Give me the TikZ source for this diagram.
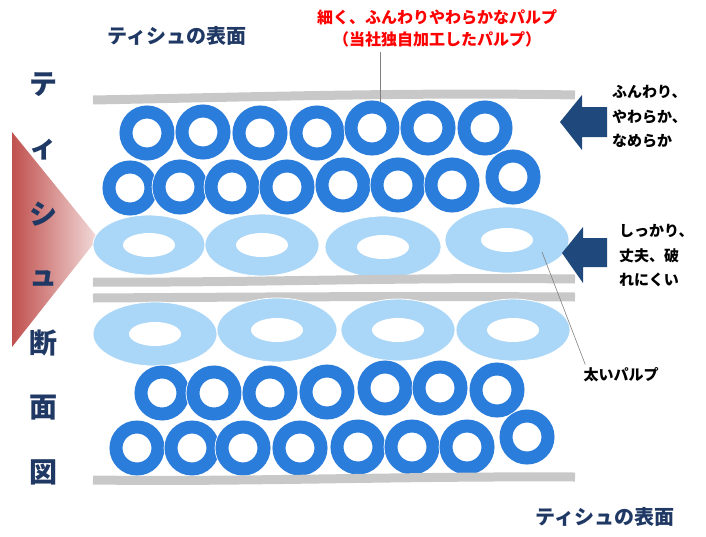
\documentclass[tikz,border=0pt]{standalone}
\usepackage{fontspec}
\setmainfont{Noto Sans CJK JP}
\usetikzlibrary{positioning}
\definecolor{navy}{RGB}{31,56,100}
\definecolor{ringblue}{RGB}{43,125,220}
\definecolor{lightpulp}{RGB}{170,214,247}
\definecolor{bargray}{RGB}{200,200,200}
\definecolor{leadergray}{RGB}{128,128,128}
\definecolor{arrowblue}{RGB}{31,73,125}
\definecolor{trired}{RGB}{192,80,77}
\definecolor{tripink}{RGB}{242,220,219}
\begin{document}
\begin{tikzpicture}[x=1pt,y=-1pt]
        % Define styles for pulp, sheets and labels
        \tikzstyle{fine}=[circle, draw=white, line width=0.8pt, double=ringblue, double distance=13pt, fill=white, minimum size=42pt, inner sep=0pt]
        \tikzstyle{sheet}=[draw=bargray, line width=9pt]
        \tikzstyle{leader}=[draw=leadergray, line width=0.6pt]
        \tikzstyle{vtitle}=[text=navy, font=\bfseries\fontsize{28}{30}\selectfont, inner sep=0pt]
        \tikzstyle{surface}=[text=navy, font=\bfseries\fontsize{20}{24}\selectfont, inner sep=0pt]
        \tikzstyle{note}=[align=left, font=\bfseries\fontsize{15}{24.5}\selectfont, inner sep=0pt]

        \useasboundingbox (0,0) rectangle (706,536);

        % Define section triangle and title
        \shade[left color=trired, right color=tripink] (12,132) -- (98,238) -- (12,347) -- cycle;
        \foreach \ch [count=\i] in {テ,ィ,シ,ュ,断,面,図}
          \node[vtitle] (title\i) at (43,{85+64.5*(\i-1)}) {\ch};

        % Upper sheet and fine pulp
        \draw[sheet] (93,100) .. controls (250,97) and (420,92) .. (575,95);
        \foreach \x/\y [count=\i] in {147/133,203/132,260/133,317/133,372/128,428/128,485/128}
          \node[fine] (fa\i) at (\x,\y) {};
        \foreach \x/\y [count=\i] in {130/188,180/187,232/187,287/187,343/185,398/185,452/185,513/177}
          \node[fine] (fb\i) at (\x,\y) {};

        % Thick pulp
        \foreach \x/\y/\rx/\ry in {149/245/56/30,262/245/57/31,383/247/58/31,507/240/62/33} {
          \filldraw[fill=lightpulp, draw=white, line width=0.8pt] (\x,\y) ellipse [x radius=\rx, y radius=\ry];
          \fill[white] (\x,\y) ellipse [x radius=26, y radius=12];
        }
        \draw[sheet] (93,282) .. controls (250,283) and (400,277) .. (575,279);
        \draw[sheet] (93,298) .. controls (250,297) and (400,296) .. (575,297);
        \foreach \x/\y/\rx/\ry in {155/334/62/32,277/330/60/32,398/330/57/31,513/330/57/31} {
          \filldraw[fill=lightpulp, draw=white, line width=0.8pt] (\x,\y) ellipse [x radius=\rx, y radius=\ry];
          \fill[white] (\x,\y) ellipse [x radius=26, y radius=12];
        }

        % Lower fine pulp and sheet
        \foreach \x/\y [count=\i] in {162/393,214/393,270/393,327/392,385/388,440/388,497/390}
          \node[fine] (la\i) at (\x,\y) {};
        \foreach \x/\y [count=\i] in {137/448,192/448,243/448,300/448,358/447,412/447,467/447,527/437}
          \node[fine] (lb\i) at (\x,\y) {};
        \draw[sheet] (93,480) .. controls (250,482) and (400,476) .. (575,477);

        % Arrows
        \fill[arrowblue] (560,122) -- (582,95) -- (582,107) -- (607,107) -- (607,137) -- (582,137) -- (582,150) -- cycle;
        \fill[arrowblue] (562,253) -- (583,227) -- (583,238) -- (607,238) -- (607,267) -- (583,267) -- (583,283) -- cycle;

        % Labels
        \node[surface] (topsurface) at (177,36) {ティシュの表面};
        \node[surface] (bottomsurface) at (605,517) {ティシュの表面};
        \node[text=red, align=center, font=\bfseries\fontsize{16}{22}\selectfont, inner sep=0pt] (finelabel) at (437,28) {細く、ふんわりやわらかなパルプ\\（当社独自加工したパルプ）};
        \node[note, anchor=west] (softnote) at (612,117) {ふんわり、\\やわらか、\\なめらか};
        \node[note, anchor=west] (strongnote) at (619,256) {しっかり、\\丈夫、破\\れにくい};
        \node[font=\bfseries\fontsize{15}{18}\selectfont, inner sep=0pt] (thicklabel) at (621,375) {太いパルプ};

        % Leader lines
        \coordinate (finetip) at (380,102);
        \draw[leader] ([yshift=-5pt]finelabel.south -| finetip) -- (finetip);
        \coordinate (thicktip) at (542,252);
        \draw[leader] (thicktip) -- ([xshift=2pt,yshift=3pt]thicklabel.north west);

      \end{tikzpicture}
\end{document}
